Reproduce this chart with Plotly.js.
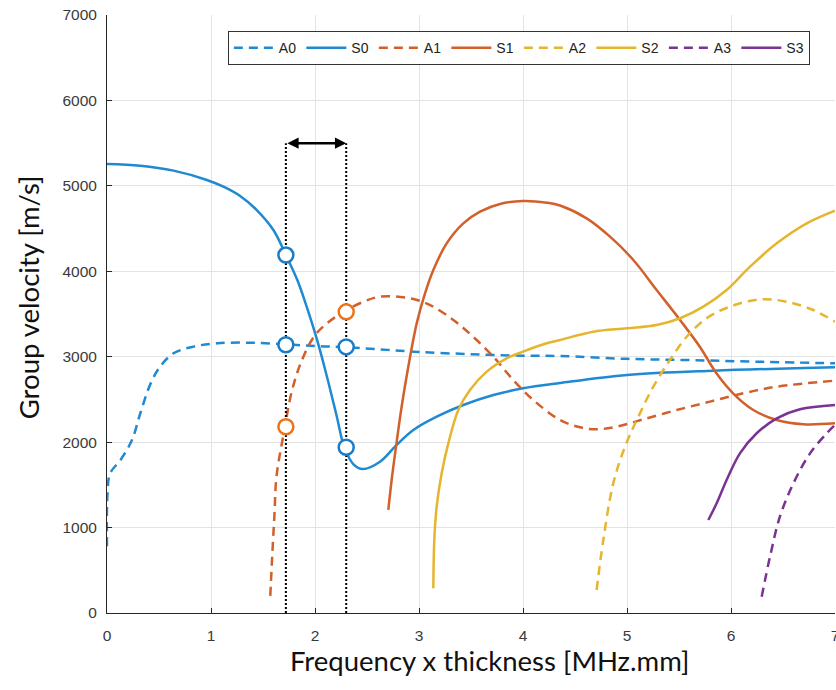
<!DOCTYPE html>
<html>
<head>
<meta charset="utf-8">
<script src="https://cdn.plot.ly/plotly-3.0.1.min.js"></script>
<style>html,body{margin:0;padding:0;background:#fff;overflow:hidden}#chart{width:836px;height:690px}</style>
</head>
<body>
<div id="chart"></div>
<script>
// ---- Data ----
const A0_x = [0, 0.005, 0.03, 0.13, 0.24, 0.32, 0.42, 0.51, 0.64, 0.83, 1.06, 1.38, 1.72, 2.0, 2.28, 2.625, 3.0, 3.5, 4.0, 4.36, 5.0, 5.64, 6.3, 7.0];
const A0_y = [780, 1400, 1635, 1791, 2025, 2337, 2688, 2883, 3040, 3118, 3157, 3164, 3145, 3125, 3112, 3086, 3055, 3030, 3012, 3008, 2975, 2960, 2940, 2923];

const S0_x = [0, 0.32, 0.64, 0.96, 1.12, 1.28, 1.44, 1.60, 1.72, 1.83, 1.92, 2.02, 2.115, 2.21, 2.28, 2.37, 2.46, 2.625, 2.785, 2.946, 3.17, 3.426, 3.715, 4.0, 4.356, 5.0, 5.83, 7.0];
const S0_y = [5256, 5236, 5178, 5069, 4990, 4881, 4717, 4483, 4190, 3898, 3586, 3196, 2766, 2298, 1947, 1740, 1685, 1771, 1967, 2142, 2298, 2435, 2552, 2630, 2692, 2786, 2836, 2876];

const A1_x = [1.57, 1.59, 1.61, 1.63, 1.70, 1.78, 1.875, 1.99, 2.115, 2.28, 2.46, 2.625, 2.913, 3.106, 3.33, 3.52, 3.715, 3.907, 4.099, 4.356, 4.548, 4.708, 4.90, 5.157, 5.478, 5.798, 6.118, 6.44, 7.0];
const A1_y = [200, 700, 1150, 1600, 2107, 2610, 2962, 3235, 3391, 3528, 3640, 3703, 3684, 3605, 3430, 3234, 3000, 2727, 2493, 2259, 2174, 2150, 2181, 2267, 2376, 2474, 2572, 2649, 2720];

const S1_x = [2.705, 2.737, 2.779, 2.833, 2.897, 2.978, 3.058, 3.138, 3.266, 3.426, 3.587, 3.779, 4.0, 4.228, 4.356, 4.612, 4.837, 5.061, 5.285, 5.51, 5.70, 5.86, 6.02, 6.215, 6.44, 6.695, 7.0];
const S1_y = [1206, 1557, 1947, 2415, 2883, 3390, 3742, 4015, 4327, 4561, 4698, 4788, 4823, 4803, 4770, 4620, 4405, 4132, 3781, 3430, 3117, 2806, 2572, 2376, 2259, 2209, 2220];

const A2_x = [4.708, 4.772, 4.868, 4.981, 5.109, 5.253, 5.413, 5.574, 5.766, 5.99, 6.28, 6.535, 6.79, 7.0];
const A2_y = [269, 855, 1518, 1947, 2298, 2649, 2962, 3234, 3450, 3586, 3672, 3644, 3547, 3410];

const S2_x = [3.138, 3.147, 3.17, 3.218, 3.282, 3.378, 3.49, 3.651, 3.843, 4.0, 4.228, 4.356, 4.676, 5.0, 5.285, 5.51, 5.734, 5.958, 6.183, 6.44, 6.728, 7.0];
const S2_y = [289, 855, 1244, 1635, 1986, 2376, 2610, 2825, 2981, 3059, 3157, 3196, 3293, 3332, 3371, 3450, 3586, 3781, 4054, 4327, 4561, 4710];

const A3_x = [6.295, 6.375, 6.47, 6.60, 6.76, 6.92, 7.0];
const A3_y = [191, 659, 1127, 1518, 1869, 2104, 2201];

const S3_x = [5.782, 5.862, 5.958, 6.086, 6.247, 6.44, 6.663, 7.0];
const S3_y = [1089, 1284, 1557, 1869, 2104, 2279, 2385, 2435];

// highlighted points and bracket
const markerX = [1.72, 2.30];
const blueMarkers_x = [1.72, 1.72, 2.30, 2.30];
const blueMarkers_y = [4190, 3140, 3115, 1940];
const orangeMarkers_x = [1.72, 2.30];
const orangeMarkers_y = [2180, 3525];
const bracketY = 5500;

const xTicks = [0, 1, 2, 3, 4, 5, 6, 7];
const yTicks = [0, 1000, 2000, 3000, 4000, 5000, 6000, 7000];

const xTitle = 'Frequency x thickness [MHz.mm]';
const yTitle = 'Group velocity [m/s]';

// ---- Styles ----
const C_BLUE = '#1f8ad2';
const C_RED = '#d1602b';
const C_YEL = '#e6b52e';
const C_PUR = '#7a3393';
const DASH = '9px,6px';
const LW = 2.5;
const TITLE_FONT = {family: 'Lato, Carlito, sans-serif', size: 27.5, color: '#111'};

function series(name, x, y, color, dashed) {
  return {
    type: 'scatter', mode: 'lines', name: name, x: x, y: y,
    line: {color: color, width: LW, dash: dashed ? DASH : 'solid', shape: 'spline', smoothing: 1},
    hoverinfo: 'skip'
  };
}

const traces = [
  series('A0', A0_x, A0_y, C_BLUE, true),
  series('S0', S0_x, S0_y, C_BLUE, false),
  series('A1', A1_x, A1_y, C_RED, true),
  series('S1', S1_x, S1_y, C_RED, false),
  series('A2', A2_x, A2_y, C_YEL, true),
  series('S2', S2_x, S2_y, C_YEL, false),
  series('A3', A3_x, A3_y, C_PUR, true),
  series('S3', S3_x, S3_y, C_PUR, false)
];

// dotted vertical guide lines
markerX.forEach(function (xv) {
  traces.push({
    type: 'scatter', mode: 'lines', x: [xv, xv], y: [0, bracketY], showlegend: false,
    line: {color: '#000', width: 2, dash: '2px,2px'}, hoverinfo: 'skip', cliponaxis: false
  });
});

traces.push({
  type: 'scatter', mode: 'markers', x: blueMarkers_x, y: blueMarkers_y, showlegend: false,
  marker: {symbol: 'circle', size: 15, color: '#ffffff', line: {color: '#1a7cc9', width: 2.5}},
  hoverinfo: 'skip'
});
traces.push({
  type: 'scatter', mode: 'markers', x: orangeMarkers_x, y: orangeMarkers_y, showlegend: false,
  marker: {symbol: 'circle', size: 15, color: '#ffffff', line: {color: '#ec7319', width: 2.5}},
  hoverinfo: 'skip'
});

const axisCommon = {
  showline: true, linecolor: '#262626', linewidth: 1,
  showgrid: true, gridcolor: '#e3e3e3', gridwidth: 1,
  zeroline: false, ticks: 'inside', ticklen: 5, tickcolor: '#262626',
  tickfont: {family: 'Liberation Sans, Arial, sans-serif', size: 15.5, color: '#3a3a3a'},
  automargin: false
};

const layout = {
  width: 836, height: 690,
  margin: {l: 107, r: 1, t: 15, b: 77},
  paper_bgcolor: '#ffffff', plot_bgcolor: '#ffffff',
  showlegend: true,
  xaxis: Object.assign({}, axisCommon, {
    range: [0, 7], tickvals: xTicks, ticktext: xTicks.map(String),
    ticklabelstandoff: 8, ticklabeloverflow: 'allow'
  }),
  yaxis: Object.assign({}, axisCommon, {
    range: [0, 7000], tickvals: yTicks, ticktext: yTicks.map(String),
    ticklabelstandoff: 6
  }),
  legend: {
    orientation: 'h', x: 0.166, y: 0.973, xanchor: 'left', yanchor: 'top',
    bgcolor: '#ffffff', bordercolor: '#333333', borderwidth: 1,
    font: {family: 'Liberation Sans, Arial, sans-serif', size: 14, color: '#222'},
    itemwidth: 40, entrywidth: 17.5, entrywidthmode: 'pixels', traceorder: 'normal'
  },
  annotations: [
    {
      x: markerX[1], y: bracketY, ax: markerX[0], ay: bracketY,
      xref: 'x', yref: 'y', axref: 'x', ayref: 'y',
      text: '', showarrow: true, arrowside: 'end+start',
      arrowhead: 2, arrowsize: 0.9, arrowwidth: 2.5, arrowcolor: '#000', standoff: 0, startstandoff: 0
    },
    {
      text: xTitle, xref: 'paper', yref: 'paper', x: 0.526, y: -0.0786,
      xanchor: 'center', yanchor: 'middle', showarrow: false, font: TITLE_FONT
    },
    {
      text: yTitle, xref: 'paper', yref: 'paper', x: -0.1085, y: 0.528, textangle: -90,
      xanchor: 'center', yanchor: 'middle', showarrow: false, font: TITLE_FONT
    }
  ]
};

Plotly.newPlot('chart', traces, layout, {displayModeBar: false, staticPlot: true});
</script>
</body>
</html>
